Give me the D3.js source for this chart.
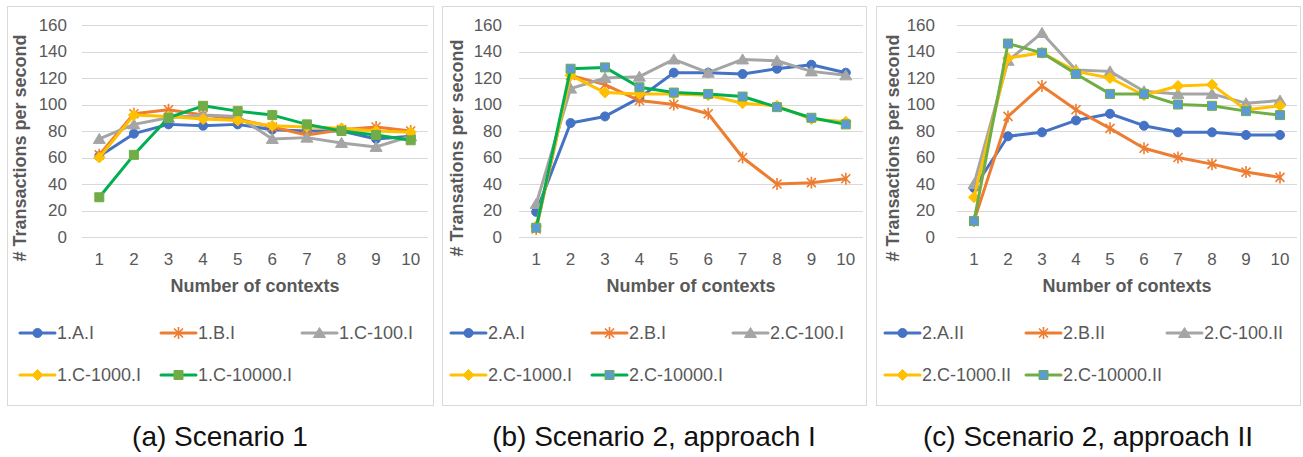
<!DOCTYPE html>
<html>
<head>
<meta charset="utf-8">
<script src="https://cdn.jsdelivr.net/npm/d3@7"></script>
<style>
  body { margin: 0; background: #fff; }
  text { font-family: "Liberation Sans", Arial, sans-serif; }
</style>
</head>
<body>
<div id="chart"></div>
<script>
const contexts = [1, 2, 3, 4, 5, 6, 7, 8, 9, 10];
const yTicks = [0, 20, 40, 60, 80, 100, 120, 140, 160];

// (a) Scenario 1
const s1Names = ['1.A.I', '1.B.I', '1.C-100.I', '1.C-1000.I', '1.C-10000.I'];
const s1A = [61, 78, 85, 84, 85, 81, 80, 80, 74, 76];
const s1B = [62, 93, 96, 92, 89, 83, 77, 81, 83, 80];
const s1C100 = [74, 85, 90, 92, 91, 74, 75, 71, 68, 76];
const s1C1000 = [60, 92, 91, 89, 88, 84, 83, 82, 80, 79];
const s1C10000 = [30, 62, 90, 99, 95, 92, 85, 80, 77, 73];

// (b) Scenario 2, approach I
const s2iNames = ['2.A.I', '2.B.I', '2.C-100.I', '2.C-1000.I', '2.C-10000.I'];
const s2iA = [19, 86, 91, 105, 124, 124, 123, 127, 130, 124];
const s2iB = [6, 122, 115, 103, 100, 93, 60, 40, 41, 44];
const s2iC100 = [25, 112, 120, 121, 134, 124, 134, 133, 125, 122];
const s2iC1000 = [8, 122, 109, 108, 108, 107, 101, 99, 89, 87];
const s2iC10000 = [7, 127, 128, 113, 109, 108, 106, 98, 90, 85];

// (c) Scenario 2, approach II
const s2iiNames = ['2.A.II', '2.B.II', '2.C-100.II', '2.C-1000.II', '2.C-10000.II'];
const s2iiA = [37, 76, 79, 88, 93, 84, 79, 79, 77, 77];
const s2iiB = [12, 91, 114, 96, 82, 67, 60, 55, 49, 45];
const s2iiC100 = [40, 133, 154, 126, 125, 110, 108, 108, 101, 103];
const s2iiC1000 = [30, 135, 139, 125, 120, 107, 114, 115, 96, 99];
const s2iiC10000 = [12, 146, 139, 123, 108, 108, 100, 99, 95, 92];

const captions = ['(a) Scenario 1', '(b) Scenario 2, approach I', '(c) Scenario 2, approach II'];
const yTitles = ['# Transactions per second', '# Transations per second', '# Transactions per second'];

const grey = '#595959';
const baseStyles = [
  { line: '#4472C4', fill: '#4472C4', stroke: '#4472C4', marker: 'circle' },
  { line: '#ED7D31', fill: 'none', stroke: '#ED7D31', marker: 'star' },
  { line: '#A5A5A5', fill: '#A5A5A5', stroke: '#A5A5A5', marker: 'triangle' },
  { line: '#FFC000', fill: '#FFC000', stroke: '#FFC000', marker: 'diamond' }
];
const greenStyles = [
  { line: '#00B050', fill: '#70AD47', stroke: '#70AD47', marker: 'square' },
  { line: '#00B050', fill: '#5B9BD5', stroke: '#70AD47', marker: 'square' },
  { line: '#70AD47', fill: '#5B9BD5', stroke: '#70AD47', marker: 'square' }
];

const panels = [
  { left: 7, right: 433, plotL: 82, plotR: 428, tickX: 67, titleX: 20, legX: 20,
    names: s1Names, series: [s1A, s1B, s1C100, s1C1000, s1C10000] },
  { left: 442, right: 866, plotL: 519, plotR: 863, tickX: 502, titleX: 457, legX: 451,
    names: s2iNames, series: [s2iA, s2iB, s2iC100, s2iC1000, s2iC10000] },
  { left: 876, right: 1300, plotL: 957, plotR: 1297, tickX: 935, titleX: 893, legX: 885,
    names: s2iiNames, series: [s2iiA, s2iiB, s2iiC100, s2iiC1000, s2iiC10000] }
];

function markerPath(type) {
  if (type === 'circle') return d3.symbol(d3.symbolCircle, 64)();
  if (type === 'square') return d3.symbol(d3.symbolSquare, 81)();
  if (type === 'triangle') return 'M0,-5.5L6,4.5L-6,4.5Z';
  if (type === 'diamond') return 'M0,-5.5L5.5,0L0,5.5L-5.5,0Z';
  // star: X plus vertical bar
  return 'M-4.5,-4.5L4.5,4.5M-4.5,4.5L4.5,-4.5M0,-6L0,6';
}

function drawMarker(g, style, x, y) {
  g.append('path')
    .attr('transform', `translate(${x},${y})`)
    .attr('d', markerPath(style.marker))
    .attr('fill', style.fill)
    .attr('stroke', style.stroke)
    .attr('stroke-width', style.marker === 'star' ? 1.6 : 1);
}

const svg = d3.select('#chart').append('svg')
  .attr('width', 1303)
  .attr('height', 457);

const y = d3.scaleLinear().domain([0, 160]).range([237, 25]);

panels.forEach((p, i) => {
  const g = svg.append('g');
  const x = d3.scalePoint().domain(contexts).range([p.plotL, p.plotR]).padding(0.5);
  const styles = baseStyles.concat([greenStyles[i]]);

  g.append('rect')
    .attr('x', p.left + 0.5).attr('y', 6.5)
    .attr('width', p.right - p.left).attr('height', 399)
    .attr('fill', '#fff').attr('stroke', '#D9D9D9');

  // gridlines + y tick labels
  g.selectAll('.grid').data(yTicks).join('line')
    .attr('x1', p.plotL).attr('x2', p.plotR)
    .attr('y1', d => Math.round(y(d)) + 0.5).attr('y2', d => Math.round(y(d)) + 0.5)
    .attr('stroke', '#D9D9D9').attr('stroke-width', 1);

  g.selectAll('.ytick').data(yTicks).join('text')
    .attr('x', p.tickX).attr('y', d => y(d)).attr('dy', '0.35em')
    .attr('text-anchor', 'end').attr('font-size', 17).attr('fill', grey)
    .text(d => d);

  g.selectAll('.xtick').data(contexts).join('text')
    .attr('x', d => x(d)).attr('y', 265)
    .attr('text-anchor', 'middle').attr('font-size', 17).attr('fill', grey)
    .text(d => d);

  g.append('text')
    .attr('x', (p.plotL + p.plotR) / 2).attr('y', 292)
    .attr('text-anchor', 'middle').attr('font-size', 18).attr('font-weight', 'bold')
    .attr('fill', grey).text('Number of contexts');

  g.append('text')
    .attr('transform', `translate(${p.titleX},148) rotate(-90)`)
    .attr('dy', '0.35em')
    .attr('text-anchor', 'middle').attr('font-size', 18).attr('font-weight', 'bold')
    .attr('fill', grey).text(yTitles[i]);

  const line = d3.line().x((d, j) => x(contexts[j])).y(d => y(d));

  p.series.forEach((vals, k) => {
    const st = styles[k];
    g.append('path')
      .attr('d', line(vals))
      .attr('fill', 'none').attr('stroke', st.line)
      .attr('stroke-width', 3).attr('stroke-linejoin', 'round').attr('stroke-linecap', 'round');
    vals.forEach((v, j) => drawMarker(g, st, x(contexts[j]), y(v)));
  });

  // legend
  p.names.forEach((name, k) => {
    const st = styles[k];
    const lx = p.legX + (k % 3) * 141;
    const ly = k < 3 ? 333 : 375;
    g.append('line')
      .attr('x1', lx).attr('x2', lx + 35).attr('y1', ly).attr('y2', ly)
      .attr('stroke', st.line).attr('stroke-width', 3).attr('stroke-linecap', 'round');
    drawMarker(g, st, lx + 17.5, ly);
    g.append('text')
      .attr('x', lx + 37).attr('y', ly).attr('dy', '0.35em')
      .attr('font-size', 18).attr('fill', grey).text(name);
  });

  g.append('text')
    .attr('x', (p.left + p.right) / 2).attr('y', 446)
    .attr('text-anchor', 'middle').attr('font-size', 28).attr('fill', '#111')
    .text(captions[i]);
});
</script>
</body>
</html>
